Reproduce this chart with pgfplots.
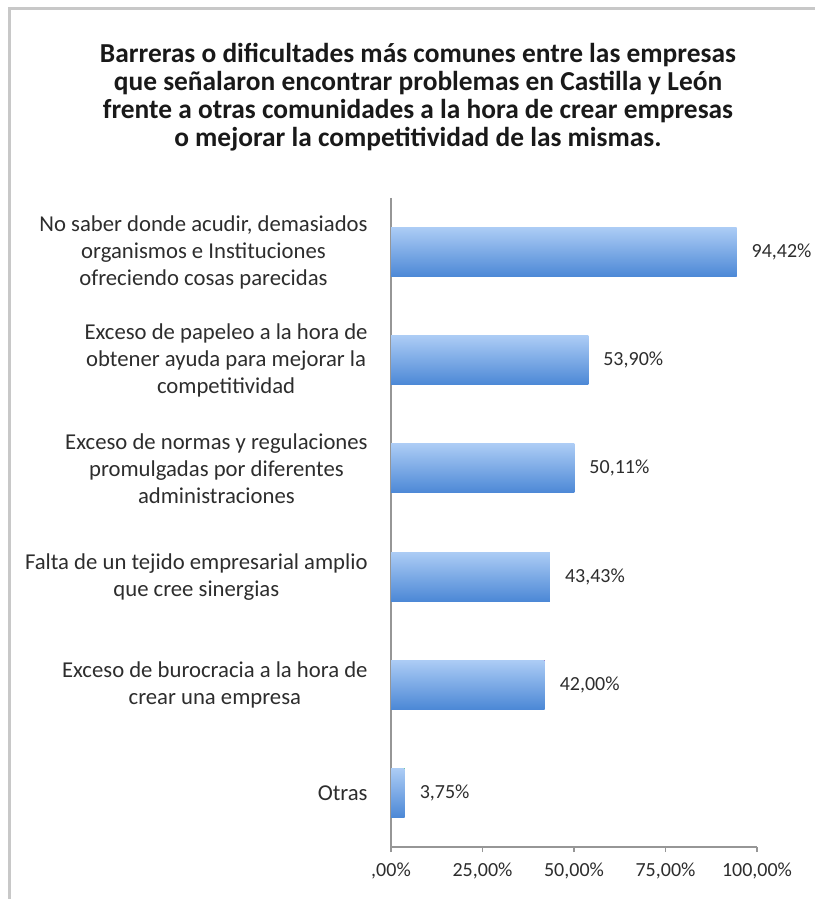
\documentclass[border=0pt]{standalone}
\usepackage{pgfplots}
\pgfplotsset{compat=1.18}
\usepackage{fontspec}
\setmainfont{Carlito}
\definecolor{axisgray}{RGB}{150,150,150}
\definecolor{txt}{RGB}{45,45,45}
\definecolor{bartop}{RGB}{172,204,245}
\definecolor{barbot}{RGB}{76,136,214}
\begin{document}
\begin{tikzpicture}
\useasboundingbox (0,0) rectangle (407.5pt,449.5pt);
\draw[color={rgb,255:red,200;green,200;blue,200}, line width=1.5pt] (4.5pt,0) -- (4.5pt,445pt) -- (407.5pt,445pt);
\node[align=center, font=\fontsize{13.7}{14}\selectfont\bfseries, text=black!90] at (209pt,401pt)
 {Barreras o dificultades más comunes entre las empresas\\que señalaron encontrar problemas en Castilla y León\\frente a otras comunidades a la hora de crear empresas\\o mejorar la competitividad de las mismas.};
\begin{axis}[
  at={(195.5pt,26pt)}, anchor=south west,
  scale only axis, width=183pt, height=324.5pt,
  xmin=0, xmax=100, ymin=0.5, ymax=6.5, y dir=reverse,
  axis x line*=bottom, axis y line*=left,
  axis line style={axisgray, line width=0.8pt},
  xtick={0,25,50,75,100},
  xticklabels={{,00\%},{25,00\%},{50,00\%},{75,00\%},{100,00\%}},
  ytick={1,2,3,4,5,6},
  yticklabels={{No saber donde acudir, demasiados\\organismos e Instituciones\\ofreciendo cosas parecidas},
    {Exceso de papeleo a la hora de\\obtener ayuda para mejorar la\\competitividad},
    {Exceso de normas y regulaciones\\promulgadas por diferentes\\administraciones},
    {Falta de un tejido empresarial amplio\\que cree sinergias},
    {Exceso de burocracia a la hora de\\crear una empresa},
    {Otras}},
  minor ytick={0.5,1.5,2.5,3.5,4.5,5.5,6.5},
  ytick style={draw=none},
  minor tick style={axisgray, line width=0.8pt},
  xtick style={axisgray, line width=0.8pt},
  tick align=outside,
  major tick length=2.5pt, minor tick length=2.5pt,
  yticklabel style={align=center, font=\fontsize{11.35}{13.5}\selectfont, text=txt, inner sep=0pt, xshift=-9pt},
  xticklabel style={font=\fontsize{10}{12}\selectfont, text=txt, yshift=-2pt},
  /pgf/number format/assume math mode=true,
  xbar, bar width=24.5pt, bar shift=0pt,
  point meta=explicit symbolic,
  nodes near coords={\pgfplotspointmeta\%},
  every node near coord/.style={font=\fontsize{10}{12}\selectfont, text=txt, anchor=west, xshift=4pt},
  every axis plot/.append style={draw=none, top color=bartop, bottom color=barbot},
]
\addplot table[meta=lab] {
x y lab
94.42 1 94,42
};
\addplot table[meta=lab] {
x y lab
53.90 2 53,90
};
\addplot table[meta=lab] {
x y lab
50.11 3 50,11
};
\addplot table[meta=lab] {
x y lab
43.43 4 43,43
};
\addplot table[meta=lab] {
x y lab
42.00 5 42,00
};
\addplot table[meta=lab] {
x y lab
3.75 6 3,75
};
\end{axis}
\end{tikzpicture}
\end{document}
